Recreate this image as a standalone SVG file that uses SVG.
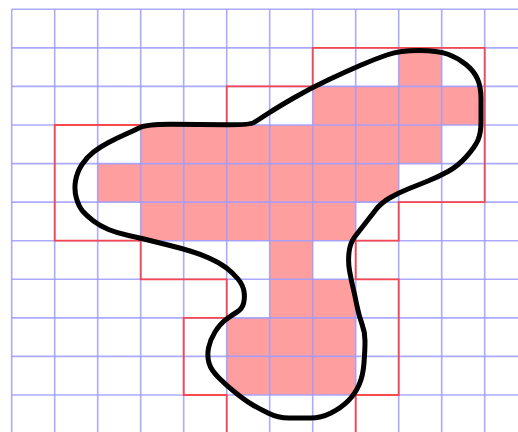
<svg xmlns="http://www.w3.org/2000/svg" width="518" height="432" viewBox="0 0 518 432">
<style>
.grid line{stroke:#9c9cff;stroke-width:1.6;opacity:0.85}
.pink{fill:#ff9e9e}
.outline{fill:none;stroke:#ff3b3b;stroke-width:1.8;opacity:0.9}
.curve{fill:none;stroke:#000;stroke-width:5;stroke-linejoin:round}
</style>
<defs>
<path id="blob" d="M140,127.5 Q147,124 173.5,124.25 Q200,124.5 225,124.75 Q250,125 254,122.5 Q258,120 268,113.5 Q278,107 294.5,97.5 Q311,88 328,80 Q345,72 360,65.5 Q375,59 387.5,54.75 Q400,50.5 419,50.5 Q438,50.5 448,54.25 Q458,58 466,64.5 Q474,71 477.5,79 Q481,87 481,98.5 Q481,110 481,121.5 Q481,133 478,140 Q475,147 466.5,156.5 Q458,166 448,171.5 Q438,177 428,181 Q418,185 408,189 Q398,193 389.5,198 Q381,203 376,209.5 Q371,216 365.5,223 Q360,230 355,236.5 Q350,243 349,252.5 Q348,262 349.5,270.5 Q351,279 353,287.5 Q355,296 357,306 Q359,316 362,324 Q365,332 365,341 Q365,350 364,363 Q363,376 359,385 Q355,394 348,401 Q341,408 331,413 Q321,418 310.5,418 Q300,418 289,418 Q278,418 268,413 Q258,408 252,404.5 Q246,401 236.5,393.5 Q227,386 219,378 Q211,370 209,363 Q207,356 208.5,348 Q210,340 215,332 Q220,324 226,319.5 Q232,315 237,312 Q242,309 243.5,303.5 Q245,298 244,291.5 Q243,285 238,279 Q233,273 226.5,268 Q220,263 210,258.5 Q200,254 190,251 Q180,248 170,245.5 Q160,243 150,240.5 Q140,238 128.5,235.5 Q117,233 108.5,229.5 Q100,226 93.5,221 Q87,216 83,211.5 Q79,207 76.5,198.5 Q74,190 75.5,181 Q77,172 82,164.5 Q87,157 93.5,152 Q100,147 108.5,142.5 Q117,138 125,134.5 Q133,131 140,127.5 Z"/>
<clipPath id="inside"><use href="#blob"/></clipPath>
</defs>
<rect width="518" height="432" fill="#fff"/>
<g id="cells" class="pink" clip-path="url(#inside)">
<rect x="398.7" y="47.9" width="43" height="38.6"/>
<rect x="312.7" y="86.4" width="172" height="38.7"/>
<rect x="140.7" y="125" width="301" height="38.7"/>
<rect x="97.7" y="163.6" width="301" height="38.6"/>
<rect x="140.7" y="202.1" width="215" height="38.7"/>
<rect x="269.7" y="240.7" width="43" height="38.7"/>
<rect x="269.7" y="279.3" width="86" height="38.7"/>
<rect x="226.7" y="317.9" width="129" height="77.1"/>
</g>
<g id="grid" class="grid">
<line x1="11.7" y1="9.3" x2="11.7" y2="432"/>
<line x1="54.7" y1="9.3" x2="54.7" y2="432"/>
<line x1="97.7" y1="9.3" x2="97.7" y2="432"/>
<line x1="140.7" y1="9.3" x2="140.7" y2="432"/>
<line x1="183.7" y1="9.3" x2="183.7" y2="432"/>
<line x1="226.7" y1="9.3" x2="226.7" y2="432"/>
<line x1="269.7" y1="9.3" x2="269.7" y2="432"/>
<line x1="312.7" y1="9.3" x2="312.7" y2="432"/>
<line x1="355.7" y1="9.3" x2="355.7" y2="432"/>
<line x1="398.7" y1="9.3" x2="398.7" y2="432"/>
<line x1="441.7" y1="9.3" x2="441.7" y2="432"/>
<line x1="484.7" y1="9.3" x2="484.7" y2="432"/>
<line x1="11.7" y1="9.3" x2="518" y2="9.3"/>
<line x1="11.7" y1="47.9" x2="518" y2="47.9"/>
<line x1="11.7" y1="86.4" x2="518" y2="86.4"/>
<line x1="11.7" y1="125" x2="518" y2="125"/>
<line x1="11.7" y1="163.6" x2="518" y2="163.6"/>
<line x1="11.7" y1="202.1" x2="518" y2="202.1"/>
<line x1="11.7" y1="240.7" x2="518" y2="240.7"/>
<line x1="11.7" y1="279.3" x2="518" y2="279.3"/>
<line x1="11.7" y1="317.9" x2="518" y2="317.9"/>
<line x1="11.7" y1="356.4" x2="518" y2="356.4"/>
<line x1="11.7" y1="395" x2="518" y2="395"/>
</g>
<g id="cover">
<polygon class="outline" points="54.7,125 226.7,125 226.7,86.4 312.7,86.4 312.7,47.9 484.7,47.9 484.7,202.1 398.7,202.1 398.7,240.7 355.7,240.7 355.7,279.3 398.7,279.3 398.7,395 355.7,395 355.7,440 226.7,440 226.7,395 183.7,395 183.7,317.9 226.7,317.9 226.7,279.3 140.7,279.3 140.7,240.7 54.7,240.7"/>
</g>
<g id="shape">
<use href="#blob" class="curve"/>
</g>
</svg>
